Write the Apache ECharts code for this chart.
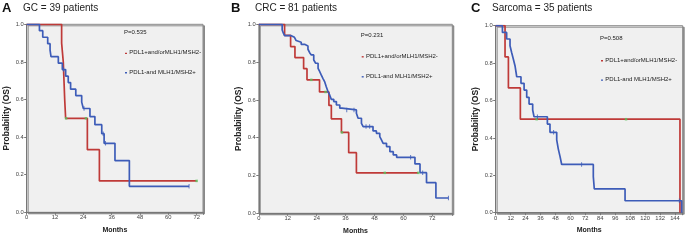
<!DOCTYPE html>
<html>
<head>
<meta charset="utf-8">
<script src="https://cdn.jsdelivr.net/npm/echarts@6/dist/echarts.min.js"></script>
<style>
  html, body { margin: 0; padding: 0; background: #fff; }
  #main { width: 700px; height: 241px; }
</style>
</head>
<body>
<div id="main"></div>
<script>
// 每个面板的数据：时间(月) 与 生存率
const panelNames = ['A', 'B', 'C']
const panelTitles = ['GC = 39 patients', 'CRC = 81 patients', 'Sarcoma = 35 patients']
const pValues = ['P=0.535', 'P=0.231', 'P=0.508']
const groupNames = ['PDL1+and/orMLH1/MSH2-', 'PDL1-and MLH1/MSH2+']
const yTicks = [0, 0.2, 0.4, 0.6, 0.8, 1.0]

// A: GC
const aRedT = [0, 14.8, 15.5, 15.8, 16.1, 16.5, 25.7, 30.8, 72]
const aRedS = [1, 0.9, 0.8, 0.7, 0.6, 0.5, 0.333, 0.167, 0.167]
const aRedCensT = [16.7, 25.1, 72]
const aRedCensS = [0.5, 0.5, 0.167]
const aBlueT = [0, 5.4, 6.8, 8.9, 9.9, 10.3, 13.4, 15.1, 16.5, 17.6, 18.6, 20.8, 23.3, 24.0, 26.8, 28.9, 31.8, 32.8, 37.4, 43.5, 68.8]
const aBlueS = [1, 0.966, 0.931, 0.897, 0.862, 0.828, 0.793, 0.759, 0.724, 0.69, 0.655, 0.621, 0.586, 0.552, 0.509, 0.466, 0.418, 0.367, 0.275, 0.138, 0.138]
const aBlueCensT = [15.6, 24.3, 32.4, 33.4, 68.8]
const aBlueCensS = [0.759, 0.552, 0.418, 0.367, 0.138]

// B: CRC
const bRedT = [0, 10.7, 13.2, 15.0, 18.6, 20.0, 25.2, 29.1, 30.1, 34.3, 37.3, 40.5, 66.2]
const bRedS = [1, 0.941, 0.882, 0.824, 0.765, 0.706, 0.642, 0.571, 0.5, 0.428, 0.321, 0.214, 0.214]
const bRedCensT = [21.8, 27.7, 34.5, 52.3, 66.2]
const bRedCensS = [0.706, 0.642, 0.428, 0.214, 0.214]
const bBlueT = [0, 9.7, 10.2, 10.7, 13.5, 14.8, 15.5, 16.2, 17.6, 19.0, 20.4, 21.1, 21.8, 22.8, 23.6, 24.6, 25.3, 25.9, 26.6, 27.3, 28.0, 28.7, 29.4, 30.1, 31.1, 32.2, 33.6, 34.5, 40.5, 41.2, 42.6, 43.3, 47.4, 48.8, 50.2, 50.9, 51.6, 53.0, 54.4, 55.8, 57.2, 64.8, 66.9, 69.6, 73.5, 78.7]
const bBlueS = [1, 0.97, 0.953, 0.94, 0.931, 0.921, 0.914, 0.905, 0.894, 0.885, 0.868, 0.85, 0.838, 0.811, 0.794, 0.767, 0.749, 0.732, 0.714, 0.697, 0.67, 0.644, 0.626, 0.603, 0.591, 0.573, 0.556, 0.547, 0.529, 0.503, 0.476, 0.459, 0.436, 0.423, 0.406, 0.388, 0.37, 0.353, 0.326, 0.309, 0.296, 0.261, 0.215, 0.162, 0.081, 0.081]
const bBlueCensT = [36.5, 39.5, 44.5, 46.0, 63.0, 68.0, 78.7]
const bBlueCensS = [0.547, 0.547, 0.459, 0.459, 0.296, 0.215, 0.081]

// C: Sarcoma
const cRedT = [0, 7.5, 10.2, 19.8, 148]
const cRedS = [1, 0.833, 0.667, 0.5, 0]
const cRedCensT = [32.9, 104.7]
const cRedCensS = [0.5, 0.5]
const cBlueT = [0, 5.4, 8.8, 11.5, 12.8, 14.2, 15.5, 16.9, 20.3, 22.8, 24.9, 26.8, 29.7, 30.8, 41.5, 43.6, 49.0, 50.3, 51.7, 53.0, 78.4, 79.2, 103.9, 149.4]
const cBlueS = [1, 0.964, 0.929, 0.893, 0.857, 0.821, 0.786, 0.727, 0.692, 0.656, 0.617, 0.581, 0.549, 0.513, 0.474, 0.43, 0.389, 0.34, 0.3, 0.258, 0.193, 0.127, 0.064, 0]
const cBlueCensT = [33.5, 46.5, 69.0, 147.5]
const cBlueCensS = [0.513, 0.43, 0.258, 0.064]

const xMax = [74.7, 80.3, 150.2]

const RED = '#bf3a38'
const BLUE = '#3d5cb8'
const GREEN = '#5cc15c'
const FONT = 'Liberation Sans, Arial, sans-serif'

const zip = (t, s) => t.map((v, i) => [v, s[i]])

const panels = [
  { red: zip(aRedT, aRedS), redC: zip(aRedCensT, aRedCensS), blue: zip(aBlueT, aBlueS), blueC: zip(aBlueCensT, aBlueCensS) },
  { red: zip(bRedT, bRedS), redC: zip(bRedCensT, bRedCensS), blue: zip(bBlueT, bBlueS), blueC: zip(bBlueCensT, bBlueCensS) },
  { red: zip(cRedT, cRedS), redC: zip(cRedCensT, cRedCensS), blue: zip(cBlueT, cBlueS), blueC: zip(cBlueCensT, cBlueCensS) }
]

// 布局（像素）
const grids = [
  { left: 26.7, top: 24.3, width: 176.3, height: 188 },
  { left: 258.8, top: 24.3, width: 193.5, height: 189 },
  { left: 495.7, top: 25.7, width: 187, height: 187 }
]
const titlePos = [[2, 23], [231, 255], [471, 492]]
const legendPos = [[124, 33.3, 53.3, 72.7], [360.7, 35.7, 56.7, 76.7], [600, 39.3, 60.7, 80]]

const chart = echarts.init(document.getElementById('main'))

const title = []
const graphic = []
const series = []
panels.forEach((p, i) => {
  title.push({ text: panelNames[i], left: titlePos[i][0], top: 2, padding: 0,
    textStyle: { fontFamily: FONT, fontSize: 13, fontWeight: 'bold', color: '#111' } })
  title.push({ text: panelTitles[i], left: titlePos[i][1], top: 3, padding: 0,
    textStyle: { fontFamily: FONT, fontSize: 10, fontWeight: 'normal', color: '#222' } })

  const lp = legendPos[i]
  graphic.push({ type: 'text', left: lp[0], top: lp[1] - 3.5,
    style: { text: pValues[i], fontFamily: FONT, fontSize: 6, fill: '#222' } })
  graphic.push({ type: 'rect', shape: { x: lp[0] + 1, y: lp[2] - 0.6, width: 2, height: 1.4 }, style: { fill: RED } })
  graphic.push({ type: 'text', left: lp[0] + 5.3, top: lp[2] - 3.5,
    style: { text: groupNames[0], fontFamily: FONT, fontSize: 6, fill: '#222' } })
  graphic.push({ type: 'rect', shape: { x: lp[0] + 1, y: lp[3] - 0.6, width: 2, height: 1.4 }, style: { fill: BLUE } })
  graphic.push({ type: 'text', left: lp[0] + 5.3, top: lp[3] - 3.5,
    style: { text: groupNames[1], fontFamily: FONT, fontSize: 6, fill: '#222' } })

  series.push({ type: 'line', step: 'end', xAxisIndex: i, yAxisIndex: i, data: p.red,
    showSymbol: false, lineStyle: { color: RED, width: 1.7 }, z: 3 })
  series.push({ type: 'line', step: 'end', xAxisIndex: i, yAxisIndex: i, data: p.blue,
    showSymbol: false, lineStyle: { color: BLUE, width: 1.7 }, z: 3 })
  series.push({ type: 'scatter', xAxisIndex: i, yAxisIndex: i, data: p.redC,
    symbol: 'rect', symbolSize: [2.5, 2.5], itemStyle: { color: GREEN }, z: 4 })
  series.push({ type: 'scatter', xAxisIndex: i, yAxisIndex: i, data: p.blueC,
    symbol: 'rect', symbolSize: [1, 4.5], itemStyle: { color: BLUE }, z: 4 })
})

const option = {
  animation: false,
  title: title,
  graphic: graphic,
  grid: grids.map(g => Object.assign({
    show: true, backgroundColor: '#f0f0f0', borderColor: '#8a8a8a', borderWidth: 1,
    shadowColor: 'rgba(120,120,120,0.8)', shadowBlur: 0, shadowOffsetX: 1.5, shadowOffsetY: 1.5
  }, g)),
  xAxis: xMax.map((m, i) => ({
    type: 'value', gridIndex: i, min: 0, max: m, interval: 12,
    name: 'Months', nameLocation: 'middle', nameGap: 14,
    nameTextStyle: { fontFamily: FONT, fontSize: 7, fontWeight: 'bold', color: '#222' },
    axisLine: { show: true, lineStyle: { color: '#777', width: 1 } },
    axisTick: { show: true, length: 2.5, lineStyle: { color: '#777' } },
    axisLabel: { fontFamily: FONT, fontSize: 5.8, color: '#444', margin: 2.5,
      formatter: v => (Math.abs(v % 12) < 1e-6 ? String(v) : '') },
    splitLine: { show: false }
  })),
  yAxis: grids.map((g, i) => ({
    type: 'value', gridIndex: i, min: 0, max: 1, interval: 0.2,
    name: 'Probability (OS)', nameLocation: 'middle', nameGap: 16,
    nameTextStyle: { fontFamily: FONT, fontSize: 8.5, fontWeight: 'bold', color: '#222' },
    axisLine: { show: true, lineStyle: { color: '#777', width: 1 } },
    axisTick: { show: true, length: 2.5, lineStyle: { color: '#777' } },
    axisLabel: { fontFamily: FONT, fontSize: 5.8, color: '#444', margin: 3,
      formatter: v => (yTicks.some(t => Math.abs(t - v) < 1e-6) ? v.toFixed(1) : '') },
    splitLine: { show: false }
  })),
  series: series
}
chart.setOption(option)
</script>
</body>
</html>
